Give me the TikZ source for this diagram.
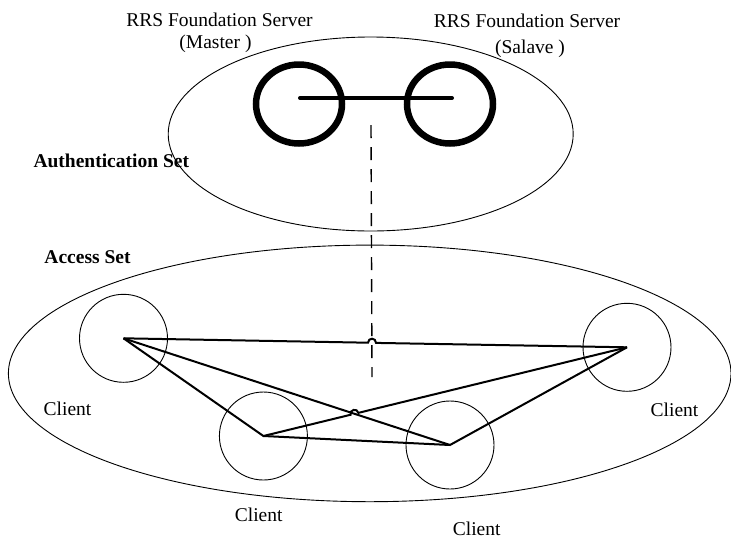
\documentclass[tikz,border=0pt]{standalone}
\usepackage{fontspec}
\setmainfont{Liberation Serif}
\usetikzlibrary{shapes.geometric}
\begin{document}
\begin{tikzpicture}[x=1pt,y=-1pt,
  setellipse/.style={draw, ellipse, inner sep=0pt, line width=0.9pt},
  server/.style={draw, ellipse, inner sep=0pt, minimum width=86pt, minimum height=79pt, line width=6.5pt},
  client/.style={draw, circle, inner sep=0pt, minimum size=88pt, line width=0.9pt},
  link/.style={line width=2pt, line join=miter},
  slink/.style={line width=4pt, line cap=round},
  dashlink/.style={line width=1.4pt, dash pattern=on 13pt off 9pt},
  lbl/.style={anchor=base, inner sep=0pt, font=\fontsize{19.5}{23}\selectfont},
  blbl/.style={lbl, font=\fontsize{19.5}{23}\selectfont\bfseries}]
\useasboundingbox (0,0) rectangle (731,539);
% sets
\node[setellipse, minimum width=405pt, minimum height=194pt] (auth) at (370.7,134) {};
\node[setellipse, minimum width=722.6pt, minimum height=256.6pt] (access) at (369.7,373.4) {};
% servers
\node[server] (master) at (299,104) {};
\node[server] (slave) at (450,104) {};
\coordinate (mlink) at (300,98);
\coordinate (slinkend) at (452,98);
\draw[slink] (mlink) -- (slinkend);
% clients
\node[client] (c1) at (123.5,338.3) {};
\node[client] (c2) at (627,347.3) {};
\node[client] (c3) at (263.4,436) {};
\node[client] (c4) at (450,445) {};
% dashed link
\coordinate (dtop) at (371,125);
\coordinate (dbot) at (372,377);
\draw[dashlink] (dtop) -- (dbot);
% connections
\coordinate (j1a) at (368,342.7);
\coordinate (j1b) at (376,342.9);
\draw[link] (c1.center) -- (j1a) .. controls (368.1,337.3) and (376.1,337.5) .. (j1b) -- (c2.center);
\draw[link] (c1.center) -- (c3.center) -- (c4.center) -- (c2.center);
\draw[link] (c1.center) -- (c4.center);
\coordinate (j2a) at (350.6,414.75);
\coordinate (j2b) at (358.4,412.85);
\draw[link] (c3.center) -- (j2a) .. controls (349.3,409.6) and (357.1,407.7) .. (j2b) -- (c2.center);
% labels
\node[lbl] (t1) at (219.5,26.7) {RRS Foundation Server};
\node[lbl] (t2) at (215.5,48.5) {(Master )};
\node[lbl] (t3) at (527,27) {RRS Foundation Server};
\node[lbl] (t4) at (530,53) {(Salave )};
\node[blbl] (t5) at (111.3,167.5) {Authentication Set};
\node[blbl] (t6) at (87.5,263) {Access Set};
\node[lbl] (t7) at (67.5,415.5) {Client};
\node[lbl] (t8) at (674.5,416.5) {Client};
\node[lbl] (t9) at (258.7,521.5) {Client};
\node[lbl] (t10) at (476.7,535) {Client};
\end{tikzpicture}
\end{document}
